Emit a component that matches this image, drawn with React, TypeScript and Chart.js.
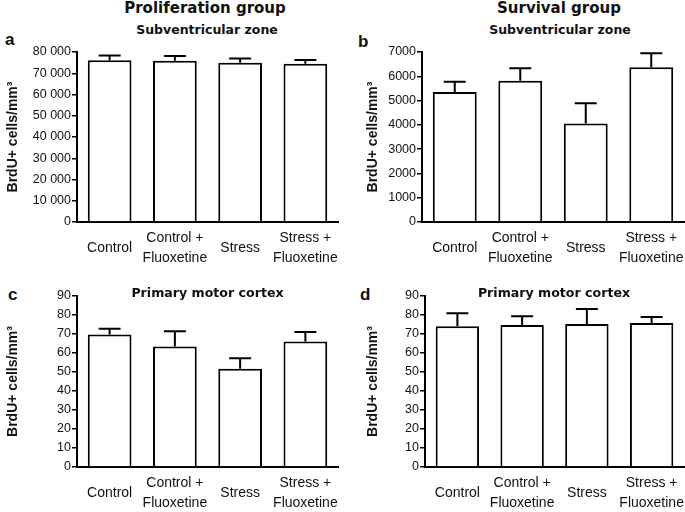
import React, { useEffect, useRef } from 'react';
import { Chart, registerables } from 'chart.js';

Chart.register(...registerables);

// ---- data ----
const categories: (string | string[])[] = ['Control', ['Control +', 'Fluoxetine'], 'Stress', ['Stress +', 'Fluoxetine']];

const svzProliferationMeans = [76100, 75900, 75000, 74500];
const svzProliferationErrors = [2200, 2200, 2000, 1700];

const svzSurvivalMeans = [5350, 5820, 4060, 6370];
const svzSurvivalErrors = [430, 510, 830, 580];

const motorProliferationMeans = [69.7, 63.4, 51.7, 66.0];
const motorProliferationErrors = [3.0, 8.0, 5.6, 5.1];

const motorSurvivalMeans = [74.1, 74.8, 75.3, 75.8];
const motorSurvivalErrors = [6.8, 4.5, 7.9, 3.2];

const svzProliferationAxis = { max: 80000, step: 10000 };
const svzSurvivalAxis = { max: 7000, step: 1000 };
const motorAxis = { max: 90, step: 10 };

const yTitle = 'BrdU+ cells/mm³';

const errorBarPlugin = {
  id: 'errorBars',
  afterDatasetsDraw(chart: any, _args: any, opts: any) {
    const errs: number[] = opts.errors || [];
    const ctx = chart.ctx;
    const yScale = chart.scales.y;
    chart.data.datasets.forEach((ds: any, di: number) => {
      const meta = chart.getDatasetMeta(di);
      meta.data.forEach((bar: any, i: number) => {
        const v = ds.data[i];
        const e = errs[i] || 0;
        const x = bar.x;
        const y0 = yScale.getPixelForValue(v);
        const y1 = yScale.getPixelForValue(v + e);
        ctx.save();
        ctx.strokeStyle = '#000';
        ctx.lineWidth = 2;
        ctx.beginPath();
        ctx.moveTo(x, y0);
        ctx.lineTo(x, y1);
        ctx.moveTo(x - 11, y1);
        ctx.lineTo(x + 11, y1);
        ctx.stroke();
        ctx.restore();
      });
    });
  },
};

const thousands = (v: number) => String(v).replace(/\B(?=(\d{3})+(?!\d))/g, ' ');

type PanelProps = {
  left: number;
  top: number;
  width: number;
  height: number;
  padLeft: number;
  padRight: number;
  padTop: number;
  yWidth: number;
  xHeight: number;
  means: number[];
  errors: number[];
  yMax: number;
  step: number;
  spaced: boolean;
};

function BarPanel(p: PanelProps) {
  const ref = useRef<HTMLCanvasElement>(null);
  useEffect(() => {
    const chart = new Chart(ref.current as HTMLCanvasElement, {
      type: 'bar',
      data: {
        labels: categories as any,
        datasets: [
          {
            data: p.means,
            backgroundColor: '#ffffff',
            borderColor: '#000000',
            borderWidth: 2,
            categoryPercentage: 1,
            barPercentage: 0.67,
          },
        ],
      },
      options: {
        animation: false,
        responsive: false,
        events: [],
        layout: { padding: { left: p.padLeft, right: p.padRight, top: p.padTop, bottom: 0 } },
        plugins: {
          legend: { display: false },
          tooltip: { enabled: false },
          errorBars: { errors: p.errors },
        } as any,
        scales: {
          x: {
            grid: {
              display: true,
              drawOnChartArea: false,
              drawTicks: true,
              tickLength: 16,
              color: 'rgba(0,0,0,0)',
            },
            border: { display: true, color: '#000', width: 2 },
            ticks: {
              color: '#111',
              autoSkip: false,
              maxRotation: 0,
              crossAlign: 'center',
              padding: 0,
              font: {
                family: '"Liberation Sans", Arial, sans-serif',
                size: 14,
                lineHeight: 1.42,
              },
            },
            afterFit: (s: any) => {
              s.height = p.xHeight;
            },
          },
          y: {
            min: 0,
            max: p.yMax,
            ticks: {
              stepSize: p.step,
              color: '#111',
              padding: 1,
              font: { family: '"Liberation Sans", Arial, sans-serif', size: 12.5 },
              callback: (v: any) => (p.spaced ? thousands(Number(v)) : String(v)),
            },
            grid: { drawOnChartArea: false, drawTicks: true, tickLength: 5, color: '#000', lineWidth: 1.5 },
            border: { display: true, color: '#000', width: 2 },
            title: {
              display: true,
              text: yTitle,
              color: '#111',
              padding: 0,
              font: { family: '"Liberation Sans", Arial, sans-serif', size: 14, weight: 'bold' },
            },
            afterFit: (s: any) => {
              s.width = p.yWidth;
            },
          },
        },
      } as any,
      plugins: [errorBarPlugin],
    });
    return () => chart.destroy();
  }, []);
  return (
    <div style={{ position: 'absolute', left: p.left, top: p.top, width: p.width, height: p.height }}>
      <canvas ref={ref} width={p.width} height={p.height} style={{ display: 'block' }} />
    </div>
  );
}

const heading = (text: string, cx: number, top: number, size: number) => (
  <div
    style={{
      position: 'absolute',
      left: cx,
      top,
      transform: 'translateX(-50%)',
      whiteSpace: 'nowrap',
      fontFamily: '"DejaVu Sans", sans-serif',
      fontWeight: 'bold',
      fontSize: size,
      lineHeight: 1,
      color: '#111',
    }}
  >
    {text}
  </div>
);

const letter = (text: string, left: number, top: number) => (
  <div
    style={{
      position: 'absolute',
      left,
      top,
      fontFamily: '"Liberation Sans", Arial, sans-serif',
      fontWeight: 'bold',
      fontSize: 17,
      lineHeight: 1,
      color: '#111',
    }}
  >
    {text}
  </div>
);

export default function App() {
  return (
    <div style={{ position: 'absolute', left: 0, top: 0, width: 685, height: 512, background: '#fff', overflow: 'hidden' }}>
      {heading('Proliferation group', 205, 1, 15)}
      {heading('Survival group', 559, 1, 15)}
      {heading('Subventricular zone', 207, 24.4, 12.5)}
      {heading('Subventricular zone', 560, 24.4, 12.5)}
      {letter('a', 5, 30.6)}
      {letter('b', 358, 32.6)}
      {letter('c', 8, 285.6)}
      {letter('d', 360, 285.6)}
      <BarPanel
        left={0} top={40} width={342} height={232}
        padLeft={5} padRight={4} padTop={12}
        yWidth={72} xHeight={50}
        means={svzProliferationMeans} errors={svzProliferationErrors}
        yMax={svzProliferationAxis.max} step={svzProliferationAxis.step} spaced={true}
      />
      <BarPanel
        left={342} top={40} width={343} height={232}
        padLeft={23} padRight={1} padTop={12}
        yWidth={57} xHeight={50}
        means={svzSurvivalMeans} errors={svzSurvivalErrors}
        yMax={svzSurvivalAxis.max} step={svzSurvivalAxis.step} spaced={false}
      />
      <BarPanel
        left={0} top={280} width={342} height={232}
        padLeft={5} padRight={4} padTop={16}
        yWidth={72} xHeight={45}
        means={motorProliferationMeans} errors={motorProliferationErrors}
        yMax={motorAxis.max} step={motorAxis.step} spaced={false}
      />
      <BarPanel
        left={342} top={280} width={343} height={232}
        padLeft={23} padRight={1} padTop={16}
        yWidth={60} xHeight={45}
        means={motorSurvivalMeans} errors={motorSurvivalErrors}
        yMax={motorAxis.max} step={motorAxis.step} spaced={false}
      />
      {heading('Primary motor cortex', 207.5, 287, 12.6)}
      {heading('Primary motor cortex', 554, 287, 12.6)}
    </div>
  );
}
